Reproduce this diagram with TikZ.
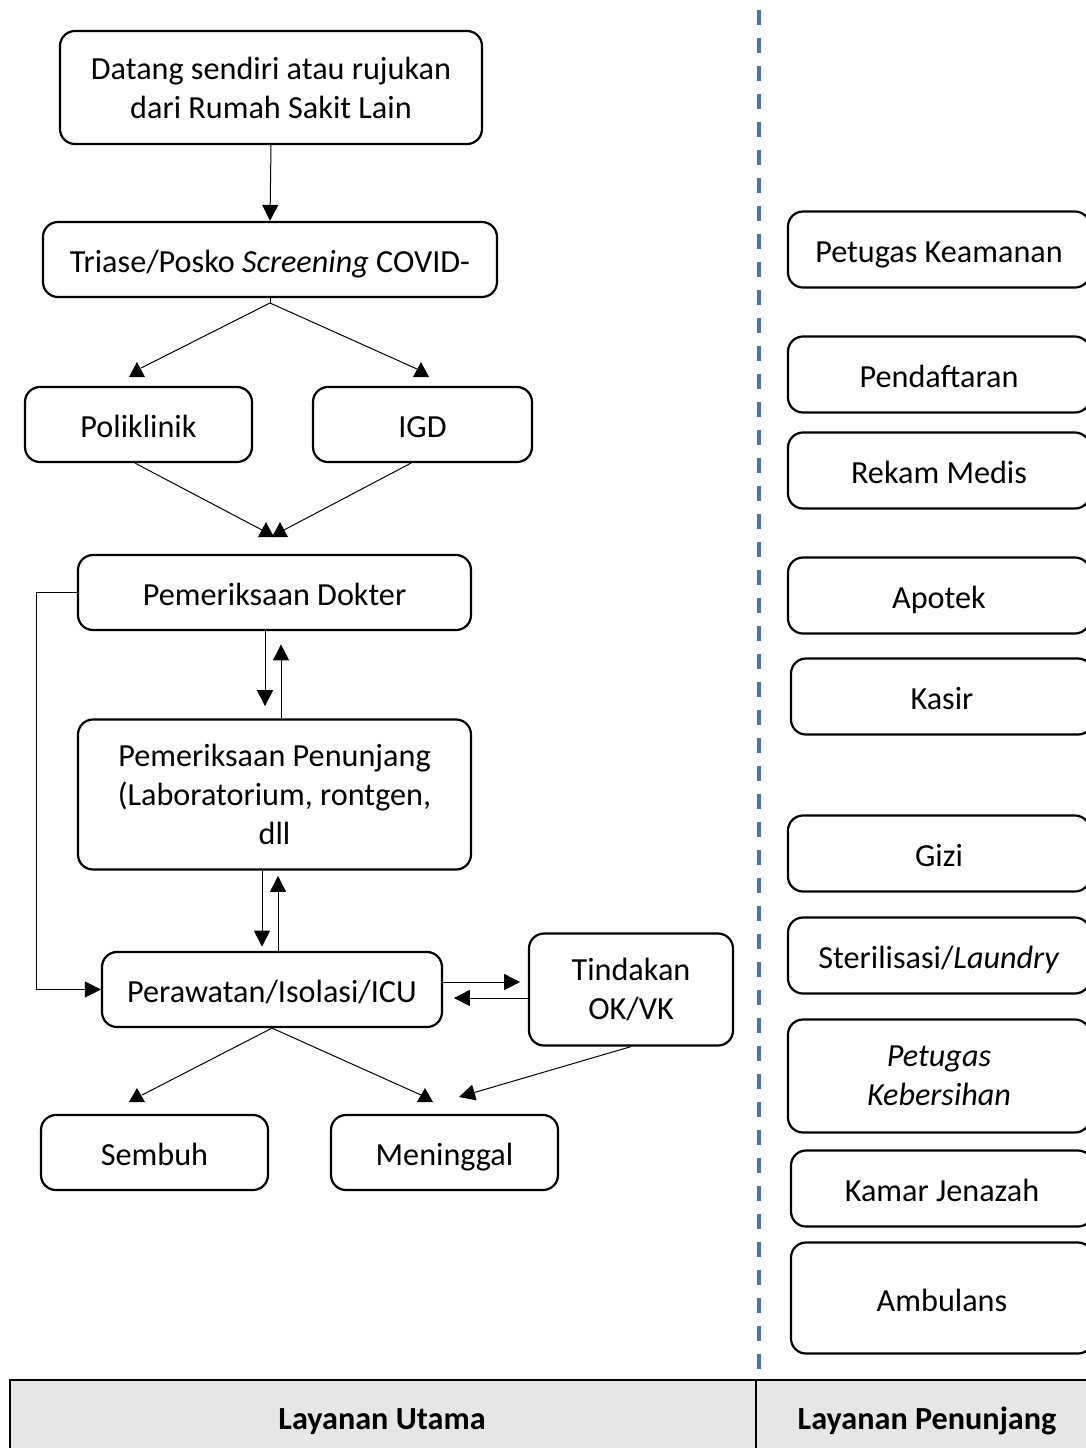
\documentclass[tikz,border=0pt]{standalone}
\usepackage{fontspec}
\setmainfont{Carlito}
\usetikzlibrary{arrows.meta}
\definecolor{dashblue}{HTML}{4472C4}
\definecolor{footgray}{HTML}{E7E6E6}
\begin{document}
\begin{tikzpicture}[x=0.5pt,y=-0.5pt,
  font=\fontsize{16.1}{19.5}\selectfont,
  box/.style={draw, line width=1.1pt, rounded corners=7.5pt, align=center, inner sep=0pt, minimum height=37.5pt},
  one/.style={text height=13pt, text depth=0pt},
  rbox/.style={box, minimum width=151pt, minimum height=38pt},
  arr/.style={line width=0.5pt, -{Triangle[width=8pt,length=8pt]}},
  ln/.style={line width=0.5pt},
  uptri/.style={fill=black},
  dashline/.style={dashblue, line width=1.75pt, dash pattern=on 7.5pt off 6.5pt}
]
\clip (0,0) rectangle (1086,1448);
\fill[white] (0,0) rectangle (1086,1448);

% main column
\node[box, minimum width=211pt, minimum height=56.5pt] (come) at (271,87.5) {Datang sendiri atau rujukan\\dari Rumah Sakit Lain};
\node[box, one, minimum width=227pt] (triase) at (270,259.5) {Triase/Posko \textit{Screening} COVID-};
\node[box, one, minimum width=113.5pt] (poli) at (138.5,424.5) {Poliklinik};
\node[box, one, minimum width=109.5pt] (igd) at (422.5,424.5) {IGD};
\node[box, one, minimum width=196.5pt] (dokter) at (274.5,592.5) {Pemeriksaan Dokter};
\node[box, minimum width=196.5pt, minimum height=75pt] (penunjang) at (274.5,794.5) {Pemeriksaan Penunjang\\(Laboratorium, rontgen,\\dll};
\node[box, one, minimum width=170pt] (rawat) at (272,989.5) {Perawatan/Isolasi/ICU};
\node[box, minimum width=102pt, minimum height=56pt] (tindakan) at (631,989.5) {Tindakan\\OK/VK};
\node[box, one, minimum width=113.5pt] (sembuh) at (154.5,1152.5) {Sembuh};
\node[box, one, minimum width=113.5pt] (mati) at (444.5,1152.5) {Meninggal};

\coordinate (tsplit) at (270,303);
\coordinate (pIn) at (141,368);
\coordinate (iIn) at (417,369);
\coordinate (dIn1) at (262,530);
\coordinate (dIn2) at (284,530);
\coordinate (sIn) at (142,1095);
\coordinate (mIn) at (421,1095);
\coordinate (mIn2) at (459,1097);

\draw[arr] (come.south) -- (triase.north);
\draw[ln] (triase.south) -- (tsplit);
\draw[ln] (tsplit) -- (pIn);
\draw[ln] (tsplit) -- (iIn);
\draw[ln] ([xshift=-1.75pt]poli.south) -- (dIn1);
\draw[ln] ([xshift=-5.75pt]igd.south) -- (dIn2);
\draw[arr] ([xshift=-4.75pt]dokter.south) -- ++(0,75);
\draw[arr] ([xshift=3.25pt]penunjang.north) -- ++(0,-74);
\draw[arr] ([xshift=-6.25pt]penunjang.south) -- ++(0,76);
\draw[arr] ([xshift=3pt]rawat.north) -- ++(0,-75);
\draw[arr] (dokter.west) -- ++(-40,0) |- (rawat.west);
\draw[arr] ([yshift=3.75pt]rawat.east) -- ++(77,0);
\draw[arr] ([yshift=-4.25pt]tindakan.west) -- ++(-74,0);
\draw[ln] (rawat.south) -- (sIn);
\draw[ln] (rawat.south) -- (mIn);
\draw[arr] (tindakan.south) -- (mIn2);

% upright arrowheads (as drawn in the original)
\fill[uptri] (129,377) -- (145,377) -- (137,362) -- cycle;
\fill[uptri] (413,377) -- (429,377) -- (421,362) -- cycle;
\fill[uptri] (258,537) -- (274,537) -- (266,522) -- cycle;
\fill[uptri] (272,537) -- (288,537) -- (280,522) -- cycle;
\fill[uptri] (129,1102) -- (145,1102) -- (137,1088) -- cycle;
\fill[uptri] (417,1102) -- (433,1102) -- (425,1088) -- cycle;

% divider
\draw[dashline] (759,10) -- (759,1372);

% support column
\node[rbox, one] (aman) at (939,249.5) {Petugas Keamanan};
\node[rbox, one] (daftar) at (939,374.5) {Pendaftaran};
\node[rbox, one] (rekam) at (939,470.5) {Rekam Medis};
\node[rbox, one] (apotek) at (939,595.5) {Apotek};
\node[rbox, one] (kasir) at (942,696.5) {Kasir};
\node[rbox, one] (gizi) at (939,853.5) {Gizi};
\node[rbox, one] (steril) at (939,955.5) {Sterilisasi/\textit{Laundry}};
\node[rbox, minimum height=56.5pt] (bersih) at (939,1076) {\textit{Petugas}\\\textit{Kebersihan}};
\node[rbox, one] (jenazah) at (942,1188.5) {Kamar Jenazah};
\node[rbox, one, minimum height=55.5pt] (ambulans) at (942,1298) {Ambulans};

% footer
\fill[footgray] (10,1380) rectangle (1100,1460);
\draw[line width=1pt] (10,1460) -- (10,1380) -- (1100,1380);
\draw[line width=1pt] (756,1380) -- (756,1460);
\node[one, font=\fontsize{16.1}{19}\selectfont\bfseries] (utama) at (382,1416) {Layanan Utama};
\node[one, font=\fontsize{16.1}{19}\selectfont\bfseries] (penunjangL) at (927,1416) {Layanan Penunjang};
\end{tikzpicture}
\end{document}
